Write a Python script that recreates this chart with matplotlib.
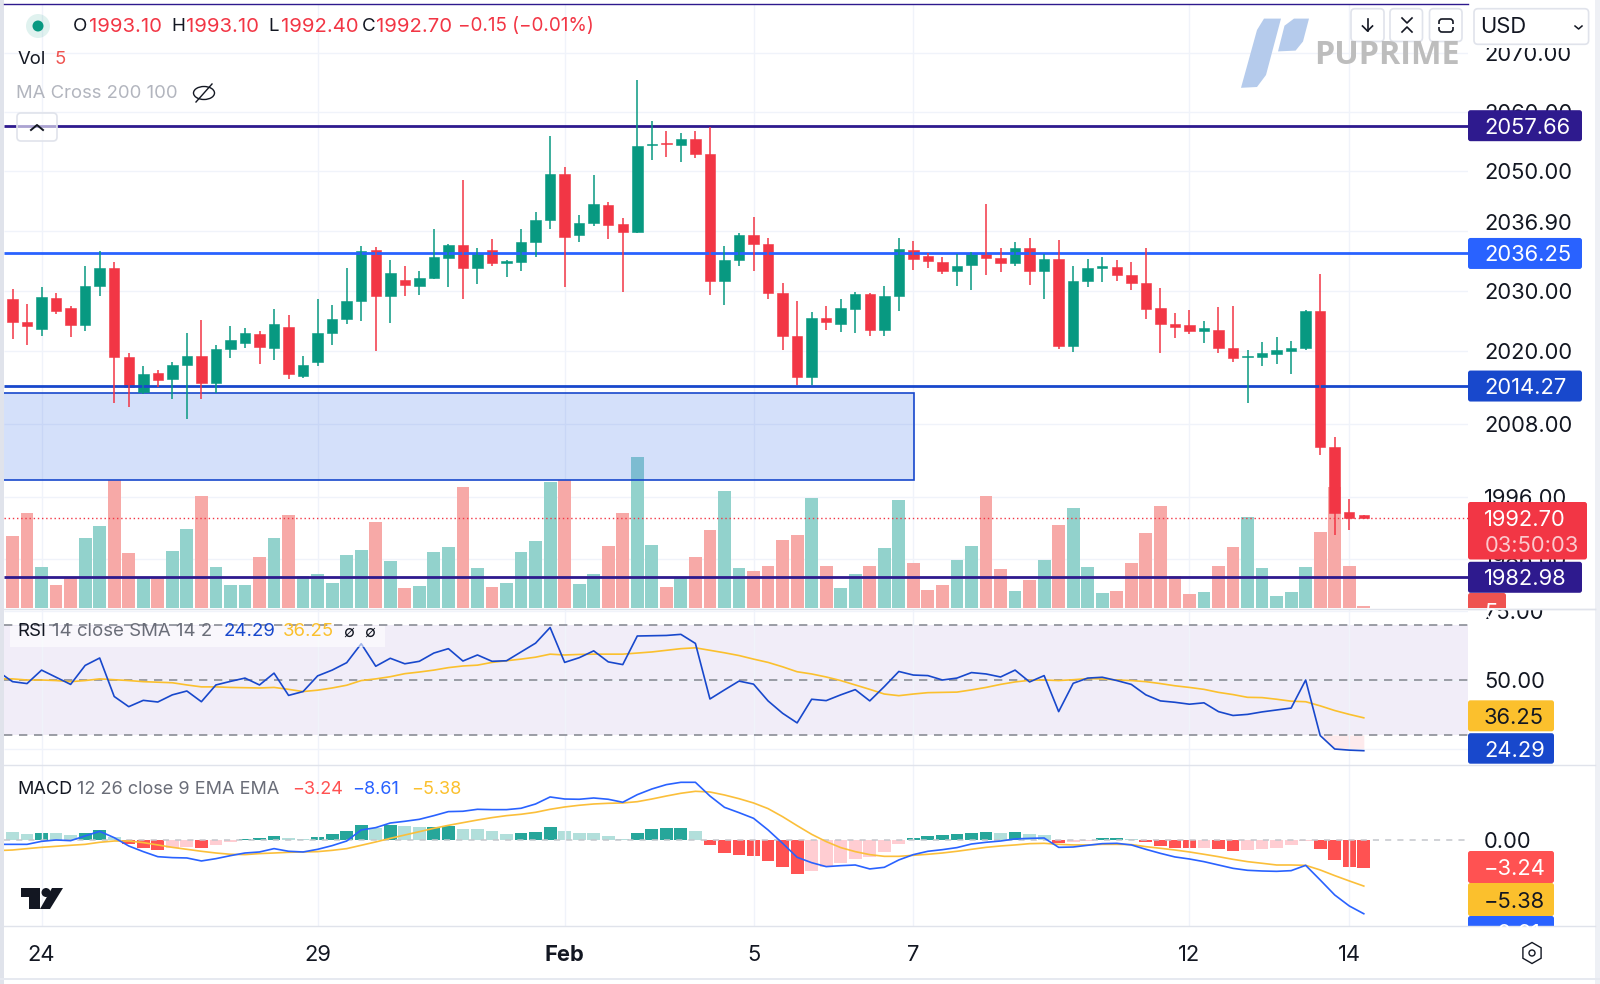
import numpy as np
import matplotlib
matplotlib.use('Agg')
import matplotlib.pyplot as plt
from matplotlib.patches import FancyBboxPatch, Rectangle, Polygon, Ellipse, Circle, RegularPolygon

W, H = 1600, 984

# candles
highs = [2030.3, 2027.8, 2030.6, 2029.6, 2027.5, 2034.2, 2036.7, 2034.8, 2019.8, 2017.6, 2016.9, 2018.2, 2023.1, 2025.2, 2021.0, 2024.2, 2023.9, 2023.4, 2027.0, 2026.1,
         2019.3, 2028.6, 2027.6, 2033.9, 2037.5, 2037.3, 2035.2, 2034.1, 2033.3, 2040.4, 2037.9, 2048.5, 2037.1, 2038.7, 2035.1, 2040.4, 2043.1, 2055.9, 2050.7, 2042.7,
         2049.4, 2044.9, 2042.2, 2065.3, 2058.5, 2056.8, 2056.4, 2056.8, 2057.5, 2037.5, 2039.7, 2042.3, 2038.8, 2031.4, 2028.3, 2026.5, 2027.5, 2028.7, 2029.8, 2029.7,
         2030.9, 2038.8, 2038.3, 2036.3, 2035.6, 2036.2, 2036.5, 2044.5, 2037.2, 2038.1, 2038.8, 2036.2, 2038.5, 2034.1, 2035.3, 2035.7, 2035.1, 2034.9, 2037.1, 2030.5,
         2026.3, 2026.9, 2025.1, 2027.3, 2027.5, 2020.3, 2021.5, 2022.3, 2021.7, 2026.9, 2032.8, 2005.9, 1995.8, 1993.1]
body_tops = [2028.7, 2024.8, 2029.0, 2028.9, 2027.1, 2030.9, 2033.9, 2033.9, 2019.1, 2016.2, 2016.4, 2017.8, 2019.2, 2019.3, 2020.4, 2021.8, 2023.1, 2022.9, 2024.5, 2024.1,
             2017.8, 2023.1, 2025.4, 2028.3, 2036.7, 2036.8, 2033.0, 2031.9, 2032.1, 2035.7, 2037.7, 2037.7, 2036.4, 2036.8, 2035.0, 2038.2, 2041.8, 2049.5, 2049.5, 2041.3,
             2044.5, 2044.4, 2041.1, 2054.3, 2054.5, 2054.8, 2055.4, 2055.4, 2052.9, 2035.2, 2039.3, 2039.4, 2037.9, 2029.7, 2022.6, 2025.5, 2025.6, 2027.1, 2029.5, 2029.5,
             2029.1, 2037.0, 2036.9, 2035.8, 2034.9, 2034.2, 2036.2, 2036.2, 2035.5, 2037.2, 2037.2, 2035.3, 2035.3, 2031.7, 2033.8, 2034.1, 2034.0, 2032.7, 2031.4, 2027.1,
             2024.5, 2024.4, 2023.8, 2023.6, 2020.5, 2019.3, 2019.8, 2020.2, 2020.6, 2026.6, 2026.6, 2004.3, 1993.6, 1993.1]
body_bottoms = [2024.9, 2024.2, 2023.7, 2026.7, 2024.3, 2024.3, 2030.8, 2019.1, 2014.1, 2013.3, 2015.3, 2015.4, 2017.7, 2014.8, 2014.8, 2020.4, 2021.3, 2020.7, 2020.6, 2016.3,
                2016.0, 2018.2, 2023.0, 2025.4, 2028.3, 2029.2, 2029.2, 2031.0, 2030.8, 2032.1, 2035.5, 2033.9, 2033.9, 2034.6, 2034.6, 2034.9, 2038.2, 2041.8, 2039.0, 2039.3,
                2041.3, 2041.0, 2039.9, 2039.9, 2054.4, 2054.5, 2054.4, 2052.9, 2031.7, 2031.7, 2035.2, 2037.8, 2029.7, 2022.5, 2015.8, 2015.7, 2024.9, 2024.6, 2027.0, 2023.5,
                2023.5, 2029.2, 2035.3, 2035.0, 2033.3, 2033.3, 2034.3, 2035.5, 2034.7, 2034.7, 2033.4, 2033.4, 2020.9, 2020.8, 2031.7, 2033.8, 2032.6, 2031.3, 2027.0, 2024.5,
                2024.0, 2023.3, 2023.4, 2020.5, 2018.9, 2019.0, 2019.0, 2019.5, 2020.0, 2020.5, 2004.3, 1993.5, 1992.7, 1992.7]
lows = [2022.0, 2021.0, 2022.5, 2026.2, 2022.4, 2023.4, 2029.1, 2011.4, 2010.8, 2013.0, 2014.1, 2012.2, 2008.8, 2012.1, 2013.1, 2018.9, 2020.6, 2017.9, 2018.5, 2015.5,
        2015.6, 2017.5, 2021.1, 2024.5, 2025.0, 2020.0, 2024.7, 2029.1, 2029.4, 2032.0, 2030.7, 2028.7, 2031.2, 2034.1, 2032.4, 2033.4, 2035.7, 2040.4, 2030.6, 2038.2,
        2040.9, 2038.7, 2029.9, 2039.7, 2051.9, 2052.4, 2051.5, 2052.2, 2029.4, 2027.7, 2034.1, 2033.4, 2028.6, 2020.2, 2014.4, 2014.4, 2023.6, 2023.2, 2023.1, 2022.6,
        2022.5, 2026.6, 2033.5, 2033.9, 2032.9, 2030.8, 2030.2, 2032.6, 2033.2, 2034.1, 2031.0, 2028.6, 2020.4, 2019.9, 2030.7, 2031.5, 2031.7, 2030.1, 2025.3, 2019.8,
        2022.2, 2022.9, 2021.3, 2019.8, 2018.2, 2011.5, 2017.5, 2017.9, 2016.3, 2020.2, 2002.9, 1989.8, 1990.7, 1992.4]
# 1 = green candle, 0 = red candle
is_up = [0, 0, 1, 0, 0, 1, 1, 0, 0, 1, 0, 1, 1, 0, 1, 1, 1, 0, 1, 0,
         1, 1, 1, 1, 1, 0, 1, 0, 1, 1, 1, 0, 1, 0, 1, 1, 1, 1, 0, 1,
         1, 0, 0, 1, 1, 0, 1, 0, 0, 1, 1, 0, 0, 0, 0, 1, 0, 1, 1, 0,
         1, 1, 0, 0, 0, 1, 1, 0, 0, 1, 0, 1, 0, 1, 1, 1, 0, 0, 0, 0,
         0, 0, 1, 0, 0, 1, 1, 1, 1, 1, 0, 0, 0, 0]
volumes = [217, 286, 122, 70, 90, 209, 245, 383, 164, 91, 91, 171, 238, 335, 122, 68, 68, 154, 209, 278,
           97, 101, 76, 158, 175, 257, 141, 61, 66, 167, 183, 363, 120, 64, 76, 167, 200, 378, 383, 72,
           101, 185, 286, 452, 189, 64, 91, 154, 235, 350, 120, 112, 125, 205, 219, 331, 125, 59, 101, 127,
           181, 324, 135, 53, 68, 144, 185, 335, 118, 51, 85, 144, 249, 301, 122, 44, 51, 135, 224, 305,
           97, 42, 47, 127, 183, 274, 120, 36, 47, 122, 228, 363, 125, 5]

# indicator lines have one extra point, the bar just off the left edge
rsi = [53.1, 49.4, 48.7, 53.6, 51.0, 48.4, 55.3, 58.0, 44.0, 40.3, 42.6, 42.0, 44.6, 46.0, 42.1, 48.2, 49.5, 50.7, 48.2, 52.5, 44.4,
       45.8, 51.5, 53.6, 56.3, 63.2, 55.0, 57.9, 55.9, 56.8, 59.8, 61.4, 56.9, 59.1, 56.8, 57.0, 60.2, 63.4, 69.1, 56.4, 58.1,
       60.6, 56.6, 55.6, 66.0, 66.1, 66.2, 66.6, 63.3, 43.1, 46.4, 49.6, 48.5, 42.4, 37.9, 34.4, 43.0, 42.5, 44.6, 46.5, 42.4,
       47.6, 53.1, 51.8, 51.6, 50.0, 50.7, 52.7, 52.2, 51.1, 53.6, 49.3, 51.6, 38.5, 48.8, 50.7, 51.0, 49.8, 48.4, 44.6, 42.4,
       41.9, 41.2, 41.7, 38.5, 37.1, 37.5, 38.4, 39.1, 39.8, 50.0, 29.8, 24.9, 24.5, 24.29]
rsi_sma = [50.4, 50.4, 50.0, 50.0, 49.8, 49.4, 49.8, 50.4, 50.1, 49.8, 49.4, 49.2, 49.0, 48.2, 47.5, 47.5, 47.3, 47.2, 47.1, 47.3, 46.6,
           45.8, 46.3, 47.1, 48.1, 49.8, 50.4, 51.2, 52.3, 52.9, 53.6, 54.5, 55.1, 55.4, 56.4, 57.0, 57.6, 58.3, 59.4, 59.1, 59.3,
           59.4, 59.4, 59.4, 59.8, 60.2, 60.8, 61.4, 61.7, 60.8, 59.9, 58.9, 57.6, 56.4, 54.8, 53.0, 52.2, 51.1, 49.8, 48.2, 46.6,
           44.9, 44.3, 44.9, 45.4, 45.5, 45.6, 46.4, 47.3, 48.4, 49.3, 49.9, 50.0, 49.8, 50.1, 50.5, 50.4, 50.0, 49.8, 49.4, 48.7,
           47.9, 47.3, 46.6, 45.5, 44.7, 43.7, 43.6, 43.0, 42.3, 42.1, 40.6, 38.9, 37.5, 36.25]
macd_hist = [0.93, 0.70, 0.86, 0.82, 0.58, 0.86, 1.17, 0.35, -0.51, -0.93, -1.17, -0.93, -0.86, -0.97, -0.62, -0.19, 0.16, 0.27, 0.51, 0.19,
             0.08, 0.35, 0.66, 1.01, 1.75, 1.44, 1.75, 1.59, 1.48, 1.56, 1.63, 1.32, 1.24, 1.05, 0.74, 0.78, 0.89, 1.48, 1.05, 0.86,
             0.84, 0.51, 0.16, 0.82, 1.24, 1.36, 1.38, 1.09, -0.62, -1.48, -1.75, -1.91, -2.45, -3.19, -3.93, -3.62, -3.19, -2.72, -2.18, -1.95,
             -1.40, -0.47, 0.19, 0.47, 0.54, 0.66, 0.86, 0.88, 0.82, 0.93, 0.70, 0.54, -0.39, -0.23, -0.12, 0.23, 0.25, 0.16, -0.27, -0.66,
             -0.89, -0.97, -0.93, -1.09, -1.24, -1.21, -1.09, -0.89, -0.62, -0.08, -1.09, -2.33, -3.11, -3.24]
macd_line = [-0.51, -0.51, -0.51, -0.16, 0.0, -0.08, 0.47, 1.01, 0.27, -0.70, -1.36, -1.95, -2.06, -2.10, -2.45, -2.18, -1.83, -1.52, -1.40, -1.01, -1.32,
             -1.40, -1.09, -0.66, -0.12, 1.17, 1.44, 1.98, 2.18, 2.41, 2.84, 3.31, 3.35, 3.58, 3.54, 3.54, 3.70, 4.20, 5.02, 4.78, 4.75,
             4.90, 4.75, 4.40, 5.29, 5.95, 6.46, 6.73, 6.73, 5.13, 3.81, 3.19, 2.53, 1.17, -0.39, -2.02, -2.65, -3.11, -3.00, -2.92, -3.38,
             -3.19, -2.33, -1.71, -1.32, -1.13, -0.89, -0.47, -0.27, -0.12, 0.12, 0.19, 0.23, -0.86, -0.82, -0.62, -0.43, -0.39, -0.58, -1.09, -1.56,
             -1.98, -2.22, -2.53, -2.92, -3.31, -3.54, -3.62, -3.66, -3.58, -2.96, -4.67, -6.42, -7.70, -8.61]
macd_signal = [-1.24, -1.17, -1.01, -0.86, -0.74, -0.62, -0.51, -0.27, -0.12, -0.12, -0.31, -0.58, -0.86, -1.09, -1.32, -1.52, -1.67, -1.71, -1.59, -1.52, -1.44,
               -1.40, -1.36, -1.21, -1.01, -0.62, -0.23, 0.19, 0.58, 0.97, 1.36, 1.71, 2.02, 2.33, 2.61, 2.84, 3.00, 3.23, 3.58, 3.85, 4.05,
               4.20, 4.28, 4.32, 4.47, 4.78, 5.13, 5.45, 5.68, 5.60, 5.25, 4.82, 4.32, 3.66, 2.72, 1.67, 0.66, -0.19, -0.89, -1.36, -1.71,
               -1.91, -1.91, -1.79, -1.67, -1.52, -1.32, -1.09, -0.86, -0.70, -0.58, -0.43, -0.39, -0.51, -0.58, -0.58, -0.51, -0.51, -0.54, -0.78, -0.97,
               -1.17, -1.40, -1.67, -1.95, -2.26, -2.53, -2.72, -2.92, -2.92, -2.96, -3.50, -4.16, -4.78, -5.38]

level_prices = [2057.66, 2036.25, 2014.27, 1982.98]
level_colors = ['#2e1a8e', '#2962ff', '#1848cc', '#2e1a8e']
zone_prices = [2013.17, 1998.84]
zone_bars = [-1, 62.02]
last_price = 1992.70
price_ticks = [2070, 2060, 2050, 2030, 2020, 2008, 1996, 1986]
price_grid = [2070, 2060, 2050, 2040, 2030, 2020, 2008, 1996, 1986]
rsi_ticks = [75, 50, 25]
date_bars = [2, 21, 38, 51, 62, 81, 92]
date_labels = ['24', '29', 'Feb', '5', '7', '12', '14']

GREEN = '#089981'
RED = '#f23645'
GRID = '#f0f3fa'
INK = '#131722'
BORDER = '#e0e3eb'
SCALE_SIZE = 15.8
plt.rcParams['font.family'] = ['Inter', 'DejaVu Sans']

fig = plt.figure(figsize=(W / 100, H / 100), dpi=100)
fig.patch.set_facecolor('white')

LEFT, RIGHT = 4, 1468
XLIM = ((LEFT - 12.5) / 14.53, (RIGHT - 12.5) / 14.53)


def pane(top, bottom, zorder=1):
    ax = fig.add_axes([LEFT / W, 1 - bottom / H, (RIGHT - LEFT) / W, (bottom - top) / H], zorder=zorder)
    ax.set_xlim(*XLIM)
    for s in ax.spines.values():
        s.set_visible(False)
    ax.tick_params(length=0, labelbottom=False, labelleft=False, labelsize=SCALE_SIZE, labelcolor=INK)
    return ax


bars = np.arange(len(highs))
line_bars = np.arange(-1, len(highs))
up = np.array(is_up) == 1

# price pane is three layers: grid, volume, candles
ax_grid = pane(4, 608, 1)
ax_grid.set_yscale('log')
ax_grid.set_ylim(1978.0, 2078.26)
ax_grid.minorticks_off()
ax_grid.set_yticks(price_ticks, [f'{p:.2f}' for p in price_ticks])
ax_grid.yaxis.tick_right()
ax_grid.tick_params(axis='y', pad=11.5, labelright=True, labelleft=False)
ax_grid.set_xticks(date_bars)
ax_grid.grid(axis='x', color=GRID, lw=1)
ax_grid.hlines(price_grid, *XLIM, color=GRID, lw=1)
ax_grid.text(1.011, 2041.2, '2036.90', transform=ax_grid.get_yaxis_transform(), fontsize=SCALE_SIZE, color=INK, va='center')

ax_vol = pane(4, 608, 2)
ax_vol.patch.set_visible(False)
ax_vol.set_yticks([])
ax_vol.set_xticks([])
ax_vol.set_ylim(0, 1812)
ax_vol.bar(bars, volumes, width=0.88, color=['#92d2cc' if u else '#f7a9a7' for u in up])

ax = pane(4, 608, 3)
ax.patch.set_visible(False)
ax.set_yscale('log')
ax.set_ylim(1978.0, 2078.26)
ax.minorticks_off()
ax.set_yticks([])
ax.set_xticks([])
ax.add_patch(Rectangle((zone_bars[0], zone_prices[1]), zone_bars[1] - zone_bars[0], zone_prices[0] - zone_prices[1],
                       facecolor='#2c66e8', alpha=0.2, edgecolor='none'))
ax.add_patch(Rectangle((zone_bars[0], zone_prices[1]), zone_bars[1] - zone_bars[0], zone_prices[0] - zone_prices[1],
                       fill=False, edgecolor='#1848cc', lw=1.2))
colors = [GREEN if u else RED for u in up]
ax.hlines(level_prices, *XLIM, colors=level_colors, lw=2)
ax.hlines(last_price, *XLIM, colors=RED, lw=1, linestyles=(0, (1, 2)))
ax.vlines(bars, lows, highs, colors=colors, lw=1.1)
heights = np.array(body_tops) - np.array(body_bottoms)
ax.bar(bars, heights, bottom=body_bottoms, width=0.72, color=colors, edgecolor=colors, lw=0.4)
ax.set_xlim(*XLIM)

# RSI pane
ax_rsi = pane(609, 765)
ax_rsi.set_ylim(19.09, 75.82)
ax_rsi.set_xticks(date_bars)
ax_rsi.grid(axis='x', color=GRID, lw=1)
ax_rsi.yaxis.tick_right()
ax_rsi.set_yticks(rsi_ticks, [f'{v:.2f}' for v in rsi_ticks])
ax_rsi.tick_params(axis='y', pad=11.5, labelright=True, labelleft=False)
ax_rsi.hlines(rsi_ticks, *XLIM, color=GRID, lw=1)
ax_rsi.axhspan(30, 70, color='#7e57c2', alpha=0.1, lw=0)
ax_rsi.hlines([70, 50, 30], *XLIM, color='#8a8d96', lw=1.2, linestyles=(0, (5, 4)))
ax_rsi.fill_between(line_bars, rsi, 30, where=np.array(rsi) < 30.5, color=RED, alpha=0.1, lw=0)
ax_rsi.plot(line_bars, rsi_sma, color='#fbc02d', lw=1.2)
ax_rsi.plot(line_bars, rsi, color='#1848cc', lw=1.2)

# MACD pane
ax_macd = pane(765, 926)
ax_macd.set_ylim(-10.04, 8.75)
ax_macd.set_yticks([0], ['0.00'])
ax_macd.yaxis.tick_right()
ax_macd.tick_params(axis='y', pad=11.5, labelright=True, labelleft=False)
ax_macd.grid(axis='x', color=GRID, lw=1)
ax_macd.set_xticks(date_bars, date_labels)
ax_macd.tick_params(axis='x', pad=14, labelbottom=True)
for lab, txt in zip(ax_macd.get_xticklabels(), date_labels):
    if txt == 'Feb':
        lab.set_fontweight('bold')
hist_colors = []
prev = None
for v in macd_hist:
    rising = prev is not None and v > prev
    if v >= 0:
        hist_colors.append('#26a69a' if rising else '#b2dfdb')
    else:
        hist_colors.append('#ffcdd2' if rising else '#ff5252')
    prev = v
ax_macd.axhline(0, color='#c4c6cc', lw=1.1, ls=(0, (4, 4)))
ax_macd.bar(bars, macd_hist, width=0.88, color=hist_colors)
ax_macd.plot(line_bars, macd_signal, color='#fbbf3a', lw=1.2)
ax_macd.plot(line_bars, macd_line, color='#2962ff', lw=1.2)

# everything around the chart, in pixel coordinates
ui = fig.add_axes([0, 0, 1, 1], zorder=10)
ui.set_xlim(0, W)
ui.set_ylim(H, 0)
ui.axis('off')
ui.patch.set_visible(False)


def price_y(axis, value):
    return H - axis.transData.transform((0, value))[1]


def box(x0, y0, x1, y1, face, edge='none', lw=0, r=2.5):
    p = FancyBboxPatch((x0 + r, y0 + r), x1 - x0 - 2 * r, y1 - y0 - 2 * r, boxstyle=f'round,pad={r},rounding_size={r}',
                       facecolor=face, edgecolor=edge, lw=lw)
    ui.add_patch(p)
    return p


def label(x, y, s, color=INK, size=13.3, **kw):
    # va center sits a little high for digits, so push it down
    return ui.text(x, y + 2, s, color=color, fontsize=size, va='center', **kw)


# outer frame
ui.add_patch(Rectangle((0, 0), LEFT, H, color=BORDER, lw=0))
ui.add_patch(Rectangle((1595, 0), 5, H, color='#eef0f5', lw=0))
ui.add_patch(Rectangle((0, 978), W, 2, color='#e6e9f0', lw=0))
ui.plot([LEFT, RIGHT], [3.5, 3.5], color='#2e1a8e', lw=1)
for y in [609, 765, 926]:
    ui.plot([LEFT, 1595], [y, y], color=BORDER, lw=1)

# hides the clipped tops of 2070.00 and 75.00
ui.add_patch(Rectangle((1468, 4), 126, 43.5, color='white', lw=0))
ui.add_patch(Rectangle((1468, 593), 126, 16, color='white', lw=0))
ui.plot([1468, 1595], [609, 609], color=BORDER, lw=1)

# level boxes on the price scale
for price, col in zip(level_prices, level_colors):
    y = price_y(ax, price)
    box(1468, y - 15.5, 1582, y + 15.5, col)
    label(1484, y, f'{price:.2f}', color='white', size=SCALE_SIZE)
box(1468, 502, 1587, 559.5, RED)
label(1484, price_y(ax, last_price), f'{last_price:.2f}', color='white', size=SCALE_SIZE)
label(1485, 543.7, '03:50:03', color='#fbc9cd', size=SCALE_SIZE)
vol_box = box(1468, 593, 1506, 622, '#ef5350')
vol_box.set_clip_path(Rectangle((1468, 593), 38, 15, transform=ui.transData))
vol_txt = label(1484, 611, '5', color='white', size=SCALE_SIZE)
vol_txt.set_clip_path(Rectangle((1468, 593), 38, 15, transform=ui.transData))

# RSI and MACD value boxes
y_sma = price_y(ax_rsi, rsi_sma[-1]) - 2
y_rsi = price_y(ax_rsi, rsi[-1]) - 2
box(1468, y_sma - 15.5, 1554, y_sma + 15.5, '#fbc02d')
label(1484, y_sma, f'{rsi_sma[-1]:.2f}', size=SCALE_SIZE)
box(1468, y_rsi - 15.5, 1554, y_rsi + 15, '#1848cc')
label(1484, y_rsi, f'{rsi[-1]:.2f}', color='white', size=SCALE_SIZE)

box(1468, 851, 1554, 883, '#ff5252')
label(1484, 867, '\u2212' + f'{abs(macd_hist[-1]):.2f}', color='white', size=SCALE_SIZE)
box(1468, 883, 1554, 916, '#fbc02d')
label(1484, 900, '\u2212' + f'{abs(macd_signal[-1]):.2f}', size=SCALE_SIZE)
clip_blue = Rectangle((1468, 916), 86, 11, transform=ui.transData)
blue_box = box(1468, 916, 1554, 946, '#2962ff')
blue_box.set_clip_path(clip_blue)
blue_txt = label(1484, 932, '\u2212' + f'{abs(macd_line[-1]):.2f}', color='white', size=SCALE_SIZE)
blue_txt.set_clip_path(clip_blue)

# header legend
ui.add_patch(Circle((38, 26), 12, color=GREEN, alpha=0.12, lw=0))
ui.add_patch(Circle((38, 26), 5.5, color=GREEN, lw=0))
for x, s in [(73, 'O'), (171, 'H'), (268, 'L'), (362, 'C')]:
    label(x, 24.5, s, size=13.5)
for x, s in [(89, '1993.10'), (186, '1993.10'), (281, '1992.40'), (376, '1992.70')]:
    label(x, 24.5, s, color=RED, size=14.6)
label(458, 24.5, '\u22120.15 (\u22120.01%)', color=RED, size=13.6)
label(18, 58, 'Vol')
label(55, 58, '5', color='#ef5350')
label(16, 91, 'MA Cross 200 100', color='#b2b5be')
ui.add_patch(Ellipse((204, 93), 21, 13, fill=False, edgecolor=INK, lw=1))
ui.plot([196, 212], [102, 84], color=INK, lw=1)
box(17, 113, 57, 141, (1, 1, 1, 0.6), BORDER, 1.2, r=4)
ui.plot([31, 37, 43], [130, 125, 130], color=INK, lw=1.4)

# RSI legend
ui.add_patch(Rectangle((10, 626), 375, 21, color='white', alpha=0.6, lw=0))
label(17, 630, 'RSI', size=13.4)
label(52, 630, '14 close SMA 14 2', color='#6a6d78', size=13.4)
label(224, 630, '24.29', color='#1848cc', size=13.4)
label(283, 630, '36.25', color='#fbc02d', size=13.4)
label(343, 630, '\u2205', size=11.5)
label(364, 630, '\u2205', size=11.5)

# MACD legend
label(17, 787, 'MACD', size=13)
label(77, 787, '12 26 close 9 EMA EMA', color='#6a6d78', size=13)
label(292, 787, '\u22123.24', color='#ff5252', size=13)
label(352, 787, '\u22128.61', color='#2962ff', size=13)
label(411, 787, '\u22125.38', color='#fbc02d', size=13)

# TradingView mark
ui.add_patch(Polygon([(21, 888), (40, 888), (40, 909), (29, 909), (29, 897), (21, 897)], color=INK, lw=0))
ui.add_patch(Circle((46, 892.5), 4.5, color=INK, lw=0))
ui.add_patch(Polygon([(52, 888), (63, 888), (50, 909), (40, 909)], color=INK, lw=0))

# PU Prime watermark
ui.add_patch(Polygon([(1264, 18.6), (1281, 18.6), (1266, 75), (1257, 87), (1241, 87.8), (1257, 30)], color='#b5cbec', lw=0))
ui.add_patch(Polygon([(1294, 18.6), (1309, 18.6), (1303, 41.5), (1295.6, 50.6), (1278, 51.4), (1284.5, 25.7)], color='#b5cbec', lw=0))
ui.text(1314, 56, 'PUPRIME', color='#bdbdbd', fontsize=23.3, fontweight='bold', family='Open Sans', va='center')

# top right buttons
for x0, x1 in [(1351, 1384), (1390, 1422.5), (1429.5, 1462)]:
    box(x0, 8.7, x1, 41.5, 'white', BORDER, 1.2, r=4)
ui.plot([1367.5, 1367.5], [19, 31], color=INK, lw=1.2)
ui.plot([1362.5, 1367.5, 1372.5], [26, 31, 26], color=INK, lw=1.2)
ui.plot([1402, 1407, 1412], [18, 23, 18], color=INK, lw=1.2)
ui.plot([1402, 1407, 1412], [32, 27, 32], color=INK, lw=1.2)
box(1439, 19, 1453, 32, 'none', INK, 1.2, r=3)
ui.add_patch(Rectangle((1436, 24), 20, 3, color='white', lw=0))
box(1474, 8.7, 1588.6, 44.3, 'white', BORDER, 1.2, r=4)
label(1480.6, 25, 'USD', size=SCALE_SIZE)
ui.plot([1575, 1578.6, 1582], [26, 29, 26], color=INK, lw=1.1)

# settings icon
ui.add_patch(RegularPolygon((1532, 953), 6, radius=10.5, fill=False, edgecolor=INK, lw=1))
ui.add_patch(Circle((1532, 953), 3, fill=False, edgecolor=INK, lw=1))

fig.savefig('out.png', dpi=100)
